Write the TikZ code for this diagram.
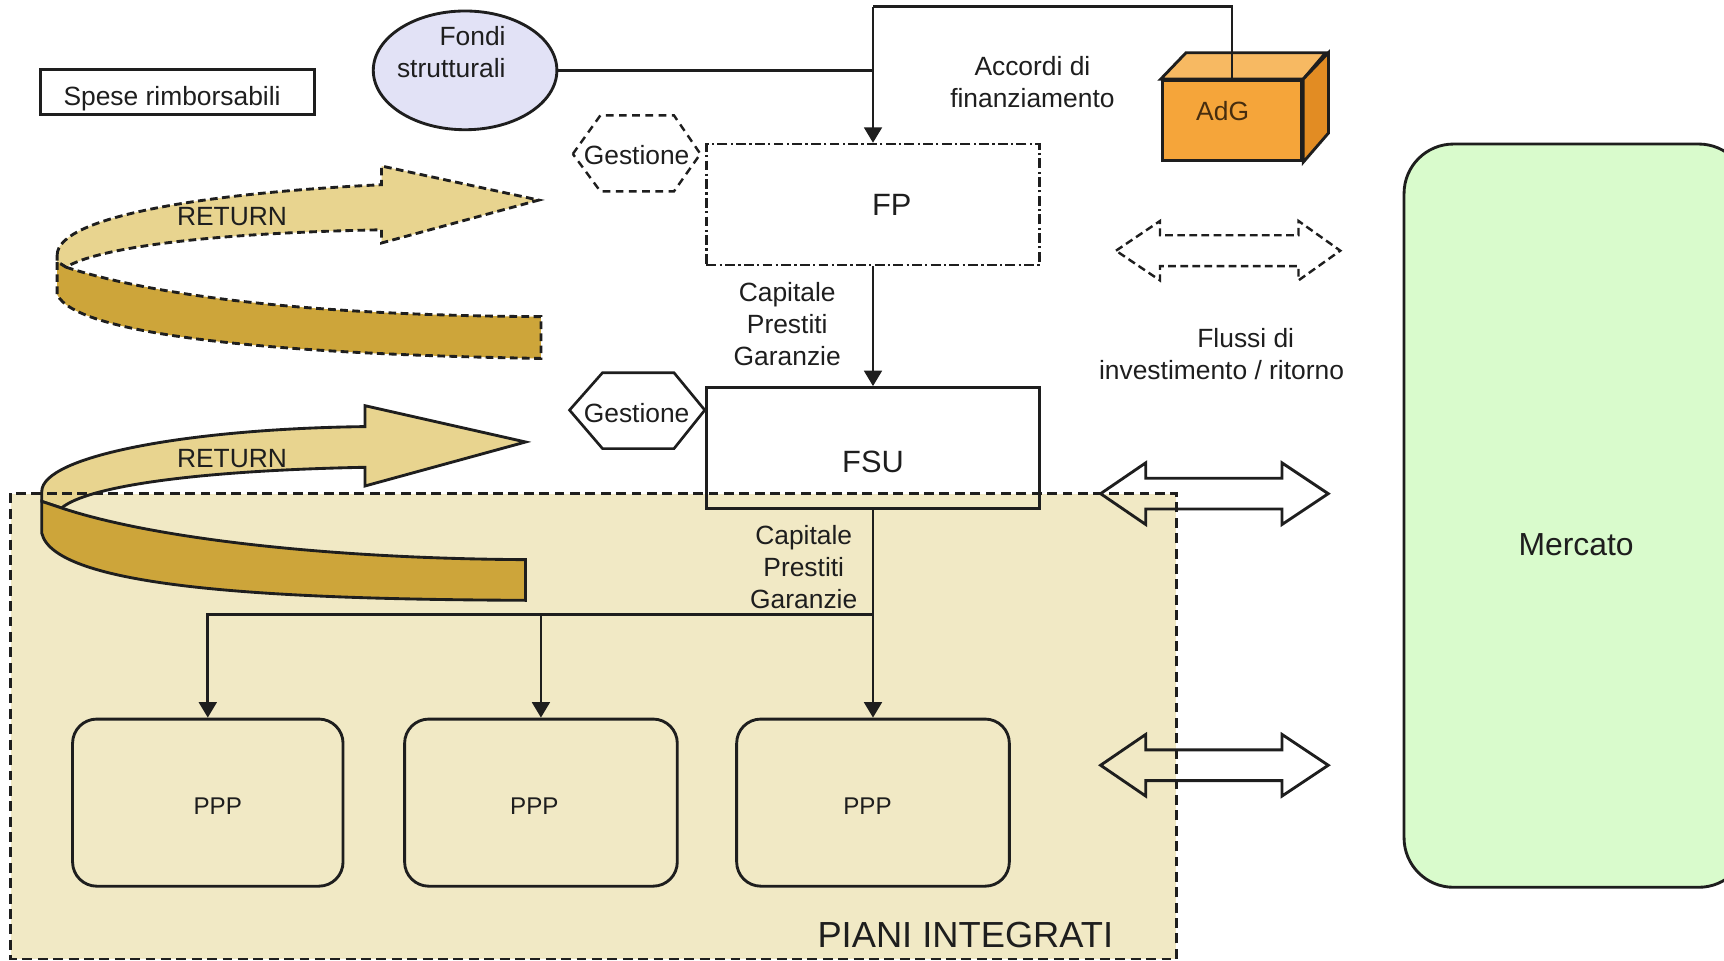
\documentclass[tikz,border=0pt]{standalone}
\usepackage{fontspec}
\setmainfont{Liberation Sans}
\usetikzlibrary{arrows.meta,shapes.geometric}
\definecolor{beige}{RGB}{241,233,197}
\definecolor{lav}{RGB}{226,226,246}
\definecolor{mgreen}{RGB}{217,251,204}
\definecolor{adgfront}{RGB}{245,165,58}
\definecolor{adgtop}{RGB}{247,185,98}
\definecolor{adgside}{RGB}{226,140,35}
\definecolor{ribL}{RGB}{232,212,143}
\definecolor{ribD}{RGB}{205,165,58}
\definecolor{ink}{RGB}{30,30,30}
\begin{document}
\begin{tikzpicture}[x=1pt,y=-1pt,
  txt/.style={font=\fontsize{24}{29}\selectfont, text=ink, inner sep=0pt, align=center},
  txtbig/.style={txt, font=\fontsize{28}{34}\selectfont},
  txtppp/.style={txt, font=\fontsize{22}{26}\selectfont},
  box/.style={draw=ink, line width=2.6pt, inner sep=0pt},
  conn/.style={draw=ink, line width=2.6pt},
  arr/.style={conn, -{Triangle[length=14pt,width=16pt]}},
  hexdash/.style={draw=ink, line width=2.2pt, dash pattern=on 7pt off 5pt},
  hexsolid/.style={draw=ink, line width=2.4pt},
  ribdash/.style={draw=ink, line width=2.6pt, dash pattern=on 7pt off 4pt},
  ribsolid/.style={draw=ink, line width=2.6pt},
  dblarr/.style={draw=ink, line width=2.6pt, line join=miter},
]
\path[use as bounding box] (0,0) rectangle (1568,874);
\clip (0,0) rectangle (1568,874);
\fill[white] (0,0) rectangle (1568,874);

% region PIANI INTEGRATI (fill)
\node[fill=beige, minimum width=1060pt, minimum height=423pt, inner sep=0pt] (piani) at (540,660.5) {};

% Mercato
\node[box, fill=mgreen, rounded corners=45pt, minimum width=313pt, minimum height=676pt,
      label={[txt, font=\fontsize{29}{34}\selectfont, yshift=-26pt]center:Mercato}] (mercato) at (1433.5,469) {};

% Spese rimborsabili
\node[box, minimum width=249pt, minimum height=41pt,
      label={[txt, xshift=-5pt, yshift=-6pt]center:Spese rimborsabili}] (spese) at (161.5,83.5) {};

% Fondi strutturali
\node[ellipse, box, fill=lav, minimum width=167pt, minimum height=108pt] (fondi) at (423,64) {};
\node[txt, align=right, anchor=east] (fonditxt) at (460,47) {Fondi\\strutturali};

% AdG box
\node[box, fill=adgfront, minimum width=127pt, minimum height=73pt] (adg) at (1120.5,109.75) {};
\filldraw[fill=adgtop, draw=ink, line width=2.6pt, line join=miter] (adg.north west) -- ++(23,-24) -- ++(127,0) -- (adg.north east) -- cycle;
\filldraw[fill=adgside, draw=ink, line width=2.6pt, line join=miter] (adg.north east) -- ++(23,-24) -- ++(0,73) -- (adg.south east) -- cycle;
\node[txt, text={rgb,255:red,70;green,45;blue,15}] (adgtxt) at (1112,101) {AdG};

% FP and FSU
\node[draw=ink, line width=2.2pt, dash pattern=on 9pt off 3pt on 2pt off 3pt, minimum width=303pt, minimum height=110pt, inner sep=0pt] (fp) at (794,186) {};
\node[txtbig] (fptxt) at (811,186) {FP};

% connectors at top
\coordinate (toprow) at (0,6);
\coordinate (j) at (fp.north |- toprow);
\draw[conn, line join=miter] (adg.north) |- (j);
\draw[arr] (j) -- (fp.north);
\draw[conn] (fondi.east) -- (fondi.east -| fp.north);
\node[txt] (accordi) at (939,74.5) {Accordi di\\finanziamento};

% Gestione hexagons
\draw[hexdash] (521,140) -- (546,105) -- (613,105) -- (637,140) -- (613,174) -- (546,174) -- cycle;
\node[txt] (gest1) at (579,141) {Gestione};
\draw[hexsolid, fill=white] (518,373) -- (548,339) -- (613,339) -- (641,373) -- (613,408) -- (548,408) -- cycle;
\node[txt] (gest2) at (579,376) {Gestione};

% FSU
\node[box, minimum width=303pt, minimum height=110pt] (fsu) at (794,407.5) {};
\node[txtbig] (fsutxt) at (794,420) {FSU};

\draw[arr] (fp.south) -- (fsu.north);
\node[txt] (cap1) at (716,295) {Capitale\\Prestiti\\Garanzie};

% RETURN ribbons
\filldraw[ribdash, fill=ribL] (52,232) .. controls (52,198) and (180,176) .. (347,168) -- (347,151) -- (490,182) -- (347,221) -- (347,209) .. controls (190,212) and (90,225) .. (60,243) -- (52,238) -- cycle;
\filldraw[ribdash, fill=ribD] (60,243) .. controls (150,272) and (300,287) .. (492,288) -- (492,326) .. controls (250,322) and (70,305) .. (52,268) -- (52,238) -- cycle;
\node[txt] (ret1) at (211,197) {RETURN};

\filldraw[ribsolid, fill=ribL] (38,447) .. controls (38,415) and (170,390) .. (332,388) -- (332,369) -- (478,402) -- (332,442) -- (332,425) .. controls (180,428) and (80,442) .. (56,462) -- (38,456) -- cycle;
\filldraw[ribsolid, fill=ribD] (56,462) .. controls (140,490) and (300,508) .. (478,509) -- (478,546) .. controls (250,545) and (50,535) .. (38,485) -- (38,456) -- cycle;
\node[txt] (ret2) at (211,417) {RETURN};

% PPP boxes
\node[box, rounded corners=22pt, minimum width=246pt, minimum height=152pt,
      label={[txtppp, xshift=9pt, yshift=-3pt]center:PPP}] (p1) at (189,730) {};
\node[box, rounded corners=22pt, minimum width=248pt, minimum height=152pt,
      label={[txtppp, xshift=-6pt, yshift=-3pt]center:PPP}] (p2) at (492,730) {};
\node[box, rounded corners=22pt, minimum width=248pt, minimum height=152pt,
      label={[txtppp, xshift=-5pt, yshift=-3pt]center:PPP}] (p3) at (794,730) {};

\coordinate (brrow) at (0,559);
\draw[arr] (fsu.south) -- (p3.north);
\draw[arr, line join=miter] (fsu.south |- brrow) -| (p1.north);
\draw[arr] (p2.north |- brrow) -- (p2.north);
\node[txt] (cap2) at (731,515.5) {Capitale\\Prestiti\\Garanzie};

% double arrows
\draw[dblarr, line width=2.2pt, dash pattern=on 7pt off 4pt] (1015,228) -- (1055,201) -- (1055,214) -- (1181,214) -- (1181,201) -- (1219,228) -- (1181,255) -- (1181,242) -- (1055,242) -- (1055,255) -- cycle;
\node[txt] (flussi) at (1111,322) {\hspace*{44pt}Flussi di\\investimento / ritorno};
\draw[dblarr] (1001,449) -- (1042,421) -- (1042,435) -- (1166,435) -- (1166,421) -- (1208,449) -- (1166,477) -- (1166,463) -- (1042,463) -- (1042,477) -- cycle;
\draw[dblarr] (1001,696) -- (1042,668) -- (1042,682) -- (1166,682) -- (1166,668) -- (1208,696) -- (1166,724) -- (1166,710) -- (1042,710) -- (1042,724) -- cycle;

% region border
\draw[draw=ink, line width=2.4pt, dash pattern=on 9pt off 5pt] (piani.north west) rectangle (piani.south east);
\node[txt, font=\fontsize{33}{38}\selectfont] (pianitxt) at (878,850) {PIANI INTEGRATI};
\end{tikzpicture}
\end{document}
